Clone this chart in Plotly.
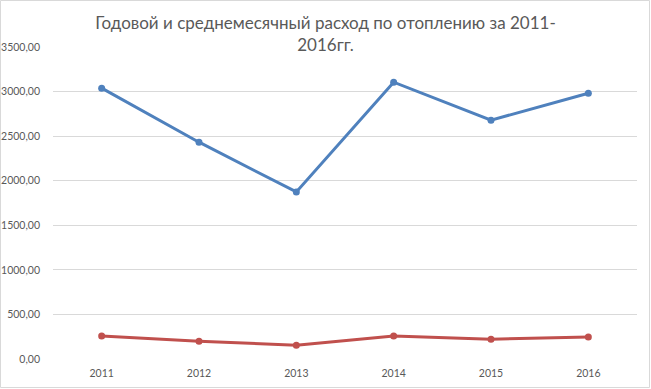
import plotly.graph_objects as go

years = ["2011", "2012", "2013", "2014", "2015", "2016"]
annual = [3038, 2432, 1874, 3105, 2679, 2982]
monthly = [257, 200, 155, 258, 222, 247]
y_tickvals = [0, 500, 1000, 1500, 2000, 2500, 3000, 3500]
y_ticktext = ["0,00", "500,00", "1000,00", "1500,00", "2000,00", "2500,00", "3000,00", "3500,00"]
title_text = "Годовой и среднемесячный расход по отоплению за 2011-<br>2016гг."

W, H = 651, 389
ml, mr, mt, mb = 53, 14, 47, 30
pw, ph = W - ml - mr, H - mt - mb

fig = go.Figure()
fig.add_trace(go.Scatter(x=years, y=annual, mode="lines+markers",
                         line=dict(color="#4F81BD", width=3),
                         marker=dict(color="#4F81BD", size=7), name="Годовой"))
fig.add_trace(go.Scatter(x=years, y=monthly, mode="lines+markers",
                         line=dict(color="#C0504D", width=3),
                         marker=dict(color="#C0504D", size=7), name="Среднемесячный"))

fig.update_layout(
    width=W, height=H,
    margin=dict(l=ml, r=mr, t=mt, b=mb, pad=0, autoexpand=False),
    paper_bgcolor="white", plot_bgcolor="white",
    showlegend=False,
    font=dict(family="Lato, Open Sans, sans-serif", color="#595959", size=10.5),
    title=dict(text=title_text, x=0.5, xref="container", xanchor="center",
               y=1 - 29 / H, yref="container", yanchor="top",
               font=dict(family="Lato, Open Sans, sans-serif", size=17, color="#595959")),
    xaxis=dict(type="category", range=[-0.5, 5.5], showgrid=False, zeroline=False,
               showline=False, ticks="", ticklabelstandoff=6, automargin=False,
               tickfont=dict(size=10.5, color="#595959")),
    yaxis=dict(range=[0, 3500], tickvals=y_tickvals, ticktext=y_ticktext,
               showgrid=True, gridcolor="#D9D9D9", gridwidth=1, zeroline=False,
               showline=False, ticks="", ticklabelstandoff=12, automargin=False,
               tickfont=dict(size=10.5, color="#595959")),
    shapes=[dict(type="rect", xref="paper", yref="paper",
                 x0=(0.5 - ml) / pw, x1=(W - 1.5 - ml) / pw,
                 y0=-(mb - 1.5) / ph, y1=(ph + mt - 0.5) / ph,
                 line=dict(color="#D9D9D9", width=1), layer="below")],
)

fig.write_html("out.html", config={"displayModeBar": False},
               post_script="document.body.style.margin='0px';")
